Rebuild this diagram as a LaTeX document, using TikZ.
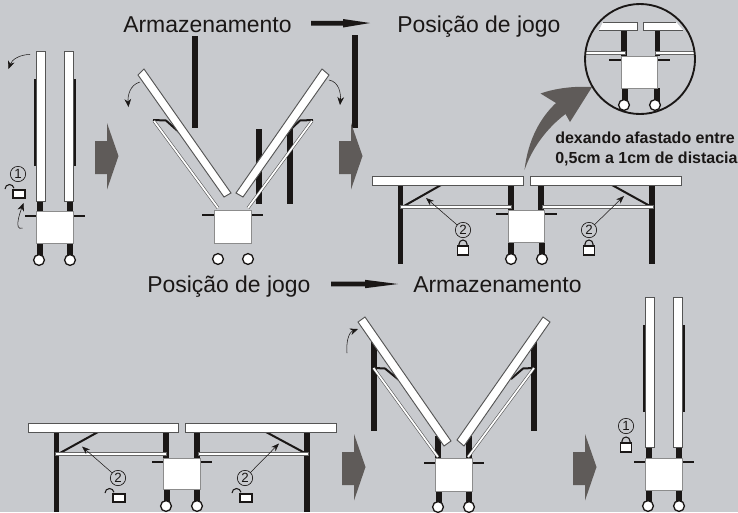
\documentclass[tikz,border=0pt]{standalone}
\usepackage{fontspec}
\setmainfont{Liberation Sans}
\usetikzlibrary{arrows.meta}
\definecolor{bgc}{HTML}{C8CACE}
\definecolor{ink}{HTML}{1A1716}
\definecolor{fatc}{HTML}{5F5B59}
\definecolor{edgec}{HTML}{555555}
\tikzset{
  title/.style={font=\fontsize{17.2pt}{20pt}\selectfont,text=ink,anchor=base west,inner sep=0pt},
  note/.style={font=\fontsize{12pt}{14pt}\bfseries\selectfont,text=ink,anchor=base west,inner sep=0pt},
  panelpart/.style={fill=white,draw=edgec,line width=0.7pt},
  boxpart/.style={fill=white,draw=black!45,line width=0.6pt},
  wheelpart/.style={fill=white,draw=ink,line width=1pt},
  brace/.style={draw=edgec,double=white,double distance=1.3pt,line width=0.45pt},
  bracebar/.style={fill=white,draw=black!60,line width=0.5pt},
  strut/.style={draw=ink,line width=1.5pt},
  titlearrow/.style={fill=ink,draw=none},
  turn/.style={draw=ink,line width=0.4pt,-{Stealth[length=6pt,width=5pt]}},
  pointer/.style={draw=ink,line width=0.4pt,-{Stealth[length=6pt,width=4.5pt]}},
  numcirc/.style={circle,draw=ink,line width=0.5pt,inner sep=0pt,minimum size=11.5pt,font=\fontsize{10pt}{10pt}\selectfont,text=ink},
  lockpart/.style={draw=ink,line width=0.8pt,fill=white},
  lockarc/.style={draw=ink,line width=0.8pt},
  lenscirc/.style={draw=ink,line width=1.4pt}
}
% base unit: one reference pixel
\newcommand{\barpart}[4]{\fill[ink] (#1,#2) rectangle (#3,#4);}
% undercarriage: box left x, box top y, box bottom y, crossbar y, wheel y
\newcommand{\carriage}[5]{%
  \fill[ink] (#1,#3) rectangle ++(6,14);
  \fill[ink] (#1+30.5,#3) rectangle ++(6,14);
  \fill[ink] (#1-12,#4-1) rectangle ++(60.5,2.2);
  \draw[boxpart] (#1,#2) rectangle (#1+36.5,#3);
}
\newcommand{\wheelpair}[3]{%
  \draw[wheelpart] (#1,#3) circle (5.4);
  \draw[wheelpart] (#2,#3) circle (5.4);
}
\newcommand{\lockshut}[2]{%
  \draw[lockarc] (#1-4,#2+9) -- (#1-4,#2+7) arc[start angle=180,end angle=360,radius=4] -- (#1+4,#2+9);
  \draw[lockpart] (#1-5.5,#2+9) rectangle (#1+5.5,#2+18);
}
\newcommand{\lockopen}[2]{%
  \draw[lockarc] (#1-14,#2+6) arc[start angle=180,end angle=350,radius=4.5];
  \draw[lockpart] (#1-6,#2+7) rectangle (#1+6,#2+15);
}
\newcommand{\fatarr}[2]{%
  \fill[fatc] (#1,#2-15) -- (#1+12,#2-15) -- (#1+12,#2-33) -- (#1+23.5,#2) -- (#1+12,#2+33.5) -- (#1+12,#2+18) -- (#1,#2+18) -- cycle;
}
\begin{document}
\begin{tikzpicture}[x=0.75pt,y=-0.75pt]
\fill[bgc] (0,0) rectangle (738,512);
\useasboundingbox (0,0) rectangle (738,512);

% ---------- titles
\node[title] (t1) at (123,32) {Armazenamento};
\node[title] (t2) at (397,32) {Posição de jogo};
\node[title] (t3) at (147,292) {Posição de jogo};
\node[title] (t4) at (413,292) {Armazenamento};
\fill[titlearrow] (311,20.8) -- (343,20.8) -- (343,19) -- (370,23) -- (343,27.5) -- (343,25.6) -- (311,25.6) -- cycle;
\fill[titlearrow] (331,281.6) -- (365,281.6) -- (365,279.8) -- (398,284) -- (365,288.2) -- (365,286.4) -- (331,286.4) -- cycle;

% ---------- figure 1
\barpart{34}{79}{36.8}{166}
\barpart{73}{79}{76}{166}
\fill[ink] (36.5,201) rectangle (42.5,212);
\fill[ink] (67,201) rectangle (73,212);
\carriage{36.5}{211}{243}{216}{260}
\draw[panelpart] (36.5,51) rectangle (45,201);
\draw[panelpart] (64.5,51) rectangle (73,201);
\wheelpair{39}{70}{260}
\node[numcirc] (n1a) at (18,174) {1};
\lockopen{19}{183}
\coordinate (ta1) at (30,54.5); \coordinate (ta2) at (8.5,69);
\draw[turn] (ta1) to[out=180,in=70] (ta2);
\coordinate (tb1) at (22.5,228); \coordinate (tb2) at (23.5,203);
\draw[turn] (tb1) to[out=200,in=250] (tb2);
\fatarr{95}{156}

% ---------- figure 2
\barpart{192}{36}{197.5}{128}
\barpart{352}{35}{357.5}{128}
\barpart{256}{129}{261.5}{204}
\barpart{287}{129}{293}{204}
\draw[strut] (153,120) -- (166,120.5) -- (180,133);
\draw[strut] (313,120) -- (300,120.5) -- (291,129);
\draw[brace] (154,121) -- (218,208);
\draw[brace] (312,121) -- (248,208);
\draw[panelpart] (138,75) -- (144,69) -- (231,193) -- (224,197) -- cycle;
\draw[panelpart] (322,69) -- (329,75) -- (243,197) -- (236,193) -- cycle;
\fill[ink] (202,214) rectangle (262.5,216.2);
\draw[boxpart] (214.5,210) rectangle (251.5,243);
\wheelpair{218}{248}{259}
\coordinate (tc1) at (140,82); \coordinate (tc2) at (128.5,107);
\draw[turn] (tc1) to[out=195,in=95] (tc2);
\coordinate (td1) at (329,80); \coordinate (td2) at (340,105);
\draw[turn] (td1) to[out=-10,in=85] (td2);
\fatarr{339}{156}

% ---------- figure 3
\barpart{398}{185}{403}{264}
\barpart{649}{185}{655}{264}
\fill[ink] (508,185) rectangle (514,210);
\fill[ink] (538,185) rectangle (544,210);
\draw[strut] (404,206) -- (441,185);
\draw[strut] (612,185) -- (650,206);
\carriage{508}{210}{242}{214}{259}
\draw[panelpart] (372.5,176.5) rectangle (523.5,185);
\draw[panelpart] (530,176.5) rectangle (681,185);
\draw[bracebar] (400,205.5) rectangle (511,208.5);
\draw[bracebar] (542,205.5) rectangle (653,208.5);
\wheelpair{511}{542}{259}
\node[numcirc] (n2a) at (463,230) {2};
\lockshut{463}{237}
\node[numcirc] (n2b) at (589,230) {2};
\lockshut{589}{237}
\coordinate (pa) at (426,198); \coordinate (pb) at (624,196);
\draw[pointer] (n2a) -- (pa);
\draw[pointer] (n2b) -- (pb);

% big curved arrow to lens
\fill[fatc] (524.5,170) .. controls (528,140) and (540,118) .. (556,103) -- (540.5,93.5)
  .. controls (556,88) and (575,86) .. (592,87)
  -- (570,122) -- (565.5,114) .. controls (547,128) and (532,148) .. (524.5,170) -- cycle;

% lens
\begin{scope}
\clip (640,59) circle (55);
\fill[ink] (621,30) rectangle (627,56);
\fill[ink] (654.5,30) rectangle (660,56);
\fill[white] (603,22) -- (637,22) -- (637,30) -- (599,30) -- cycle;
\fill[white] (643,22) -- (676,22) -- (683,30) -- (643,30) -- cycle;
\draw[edgec,line width=0.5pt] (603,22) -- (637,22) -- (637,30) -- (599,30);
\draw[edgec,line width=0.5pt] (676,22) -- (643,22) -- (643,30) -- (683,30);
\draw[bracebar] (580,51) rectangle (625,54);
\draw[bracebar] (655,51) rectangle (700,54);
\fill[ink] (609,59) rectangle (669.5,61.2);
\fill[ink] (621.5,88) rectangle (627.5,102);
\fill[ink] (654,88) rectangle (660,102);
\draw[boxpart] (621.5,56) rectangle (657.5,88);
\draw[wheelpart] (624,105) circle (5.4);
\draw[wheelpart] (655,105) circle (5.4);
\end{scope}
\draw[lenscirc] (640,59) circle (55);

\node[note] (n1) at (555,143) {dexando afastado entre};
\node[note] (n2) at (555,163) {0,5cm a 1cm de distacia};

% ---------- figure 4
\barpart{53.5}{432}{59}{512}
\barpart{304}{432}{310}{512}
\fill[ink] (163,432) rectangle (169,458);
\fill[ink] (194,432) rectangle (200,458);
\draw[strut] (60,453) -- (98,432);
\draw[strut] (266,432) -- (305,453);
\carriage{163.5}{458}{489}{462}{506}
\draw[panelpart] (28,423.5) rectangle (178,432);
\draw[panelpart] (185.5,423.5) rectangle (336,432);
\draw[bracebar] (55,452.5) rectangle (166,455.5);
\draw[bracebar] (198,452.5) rectangle (308,455.5);
\wheelpair{166}{197}{506}
\node[numcirc] (n2c) at (118,478) {2};
\lockopen{119}{487}
\node[numcirc] (n2d) at (245,478) {2};
\lockopen{246}{487}
\coordinate (pc) at (82,446.5); \coordinate (pd) at (279,443.5);
\draw[pointer] (n2c) -- (pc);
\draw[pointer] (n2d) -- (pd);
\fatarr{342}{467}

% ---------- figure 5
\barpart{371}{338}{377}{430.5}
\barpart{531}{338}{537}{430.5}
\fill[ink] (435,436) rectangle (441,458);
\fill[ink] (466,436) rectangle (472,458);
\draw[strut] (375,368) -- (385,368.5) -- (399,380);
\draw[strut] (533,368) -- (523,368.5) -- (511,379);
\draw[brace] (373.5,368) -- (438,457);
\draw[brace] (534,368) -- (468,457);
\draw[panelpart] (358,322) -- (365,317) -- (451,441) -- (444,446) -- cycle;
\draw[panelpart] (543,317) -- (550,322) -- (464,446) -- (457,440) -- cycle;
\carriage{435.5}{458}{491}{463}{507}
\wheelpair{438}{469}{507}
\coordinate (te1) at (347,353); \coordinate (te2) at (358,329);
\draw[turn] (te1) to[out=95,in=200] (te2);
\fatarr{573}{467}

% ---------- figure 6
\barpart{643}{325}{645.5}{412}
\barpart{682}{325}{685}{412}
\fill[ink] (645.5,447) rectangle (651.5,458);
\fill[ink] (676,447) rectangle (682,458);
\carriage{645.5}{458}{490}{462}{506}
\draw[panelpart] (645.5,297) rectangle (654,447);
\draw[panelpart] (673.5,297) rectangle (682,447);
\wheelpair{648}{679}{506}
\node[numcirc] (n1b) at (626,426) {1};
\lockshut{626}{434}
\end{tikzpicture}
\end{document}
